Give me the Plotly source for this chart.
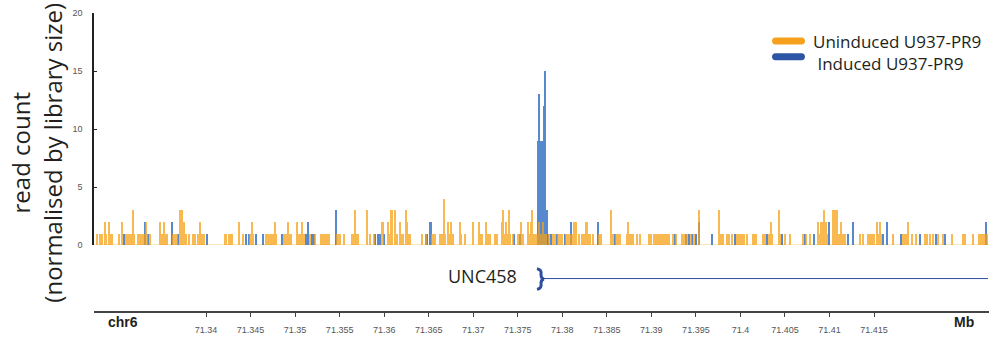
import plotly.graph_objects as go

# ---------------- data (positions in kb on chr6, values = normalised read counts)
uninduced_pos_kb = [
    71327.79, 71328.09, 71328.35, 71328.73, 71328.84, 71329.10, 71329.22, 71329.52, 71330.26, 71330.56,
    71331.01, 71331.20, 71331.39, 71331.54, 71331.72, 71331.84, 71331.99, 71332.36, 71332.51, 71332.70,
    71332.88, 71333.07, 71333.33, 71333.41, 71333.71, 71334.91, 71335.02, 71335.20, 71335.35, 71335.50,
    71335.65, 71336.33, 71336.48, 71336.63, 71336.78, 71337.08, 71337.23, 71337.30, 71337.45, 71337.60,
    71337.75, 71338.12, 71338.57, 71338.80, 71339.17, 71339.32, 71339.55, 71339.85, 71342.17, 71342.32,
    71342.62, 71342.84, 71342.99, 71343.74, 71344.19, 71345.01, 71345.20, 71345.31, 71346.73, 71347.03,
    71347.18, 71347.41, 71347.56, 71347.78, 71347.93, 71348.75, 71348.98, 71349.28, 71349.43, 71349.58,
    71350.25, 71350.40, 71350.55, 71350.70, 71350.85, 71351.00, 71351.67, 71352.27, 71352.95, 71353.10,
    71353.32, 71353.47, 71353.69, 71353.84, 71354.74, 71354.89, 71355.12, 71355.49, 71356.46, 71356.61,
    71356.73, 71356.91, 71357.14, 71358.11, 71358.41, 71358.86,
    71359.84, 71360.48, 71360.66, 71360.85, 71360.96, 71361.22, 71361.34, 71361.49, 71361.79, 71361.94,
    71362.09, 71362.46, 71362.61, 71362.76, 71362.91, 71364.26, 71364.71, 71365.38, 71365.53, 71365.75,
    71366.35, 71366.50, 71366.69, 71366.88, 71367.14, 71367.33, 71367.55, 71367.70, 71368.52, 71368.67,
    71369.12, 71369.95, 71370.02, 71370.69, 71370.84, 71370.99, 71371.44, 71371.59, 71371.74, 71371.89,
    71372.45, 71372.72, 71373.24, 71373.39, 71373.54, 71373.69, 71373.84, 71374.06, 71374.14, 71374.44,
    71375.11, 71375.41, 71375.56, 71376.16, 71376.23, 71376.38, 71376.53, 71376.68, 71376.83, 71376.98,
    71377.13, 71377.28, 71377.43, 71377.58, 71377.73, 71377.88, 71378.03, 71378.18, 71378.55, 71379.00,
    71379.23, 71379.53, 71379.75, 71379.98, 71380.50, 71380.72, 71380.88, 71381.17, 71381.32, 71381.47,
    71381.62, 71381.85, 71382.22, 71382.45, 71382.60, 71382.67, 71382.82, 71382.97, 71383.12, 71383.50,
    71384.17, 71384.32, 71385.52, 71385.74, 71386.04, 71386.19, 71386.41, 71386.56, 71387.31, 71387.46,
    71387.61, 71387.91, 71388.36, 71388.74, 71389.78, 71390.01, 71390.31, 71390.53, 71390.76, 71390.91,
    71391.13, 71391.36, 71391.58, 71391.80, 71392.03,
    71392.41, 71392.78, 71393.46, 71393.61, 71393.76, 71394.06, 71394.43, 71394.80, 71395.40, 71397.65,
    71397.80, 71398.02, 71398.47, 71398.70, 71399.07, 71399.60, 71399.82, 71399.97, 71400.19, 71400.42,
    71400.72, 71401.39, 71401.62, 71401.77, 71402.52, 71402.81, 71403.26, 71403.49, 71403.56, 71404.31,
    71404.46, 71404.99, 71405.58, 71407.08, 71407.38, 71407.83, 71408.73, 71408.88, 71409.03, 71409.18,
    71409.33, 71409.44, 71409.63, 71409.78, 71410.38, 71410.53, 71410.68, 71410.83, 71410.97, 71411.12,
    71411.27, 71411.42, 71411.57, 71411.80, 71413.45, 71413.82, 71414.34, 71414.57, 71414.79, 71415.02,
    71415.32, 71415.54, 71415.69, 71415.84, 71417.19, 71418.31, 71418.54, 71418.76, 71418.83, 71419.28,
    71419.73, 71420.71, 71421.01, 71421.31, 71421.68, 71422.20, 71422.80, 71423.78, 71424.97, 71425.27,
    71426.17, 71426.85, 71426.99, 71427.14, 71427.29, 71427.44, 71427.74,
]
uninduced_counts = [
    1, 1, 1, 2, 1, 2, 1, 1, 1, 2,
    1, 1, 1, 1, 1, 3, 1, 1, 1, 1,
    1, 1, 2, 1, 1, 2, 1, 1, 2, 1,
    1, 1, 1, 1, 1, 3, 1, 3, 1, 2,
    1, 1, 1, 1, 1, 2, 1, 1, 1, 1,
    1, 1, 1, 2, 1, 1, 2, 1, 1, 1,
    1, 1, 1, 2, 1, 1, 1, 2, 1, 1,
    2, 1, 1, 1, 2, 1, 1, 1, 1, 1,
    1, 1, 1, 1, 1, 1, 1, 1, 1, 1,
    3, 1, 1, 3, 1, 1,
    2, 2, 1, 3, 1, 3, 1, 1, 2, 1,
    1, 3, 2, 1, 1, 1, 1, 1, 1, 1,
    1, 1, 4, 1, 2, 1, 2, 1, 2, 1,
    1, 2, 1, 2, 1, 1, 2, 1, 1, 1,
    1, 1, 2, 3, 1, 2, 1, 3, 1, 1,
    1, 2, 1, 1, 2, 1, 2, 3, 1, 1,
    1, 1, 2, 1, 1, 2, 1, 1, 1, 1,
    1, 1, 1, 1, 1, 1, 1, 1, 2, 1,
    2, 1, 1, 1, 1, 2, 2, 1, 1, 1,
    1, 1, 3, 1, 1, 1, 1, 1, 1, 2,
    1, 1, 1, 1, 1, 1, 1, 1, 1, 1,
    1, 1, 1, 1, 1,
    1, 1, 1, 1, 1, 1, 1, 1, 3, 3,
    1, 1, 1, 1, 1, 1, 1, 1, 1, 1,
    1, 1, 1, 1, 1, 1, 1, 2, 1, 3,
    1, 1, 1, 1, 1, 1, 2, 1, 2, 1,
    2, 3, 2, 1, 3, 1, 3, 3, 1, 1,
    2, 1, 1, 1, 1, 1, 1, 1, 1, 1,
    2, 1, 2, 1, 1, 1, 1, 1, 2, 1,
    1, 1, 1, 1, 1, 1, 1, 1, 1, 1,
    1, 1, 1, 1, 1, 1, 1,
]

induced_pos_kb = [
    71330.86, 71333.18, 71333.56, 71336.25, 71336.93, 71340.15, 71344.49, 71344.86, 71345.61, 71346.47,
    71348.60, 71351.22, 71351.37, 71351.52, 71351.97, 71352.12, 71354.67, 71359.01, 71359.38,
    71359.54, 71359.99, 71364.78, 71365.23, 71374.59, 71375.26,
    71377.26, 71377.43, 71377.60, 71377.77, 71377.94, 71378.11, 71378.28,
    71378.44, 71378.78, 71379.38, 71380.35, 71380.95, 71384.02, 71385.89,
    71392.63, 71393.91, 71394.21, 71394.58, 71395.03, 71395.33, 71396.83, 71399.45, 71403.04, 71404.69,
    71407.23, 71408.28, 71409.93, 71412.10, 71412.62, 71416.07, 71416.44, 71418.01, 71420.18, 71421.98,
    71423.03, 71427.59,
]
induced_counts = [
    1, 2, 1, 2, 1, 1, 1, 1, 1, 1,
    1, 1, 1, 2, 1, 1, 3, 1, 1,
    1, 1, 1, 2, 1, 1,
    9, 13, 9, 9, 12, 15, 3,
    1, 1, 1, 1, 2, 2, 1,
    1, 1, 1, 1, 1, 2, 1, 1, 1, 1,
    1, 1, 2, 1, 2, 1, 2, 1, 1, 1,
    1, 2,
]

series_names = ["Uninduced U937-PR9", "Induced U937-PR9"]
x_tick_vals = [71.34, 71.345, 71.35, 71.355, 71.36, 71.365, 71.37, 71.375,
               71.38, 71.385, 71.39, 71.395, 71.4, 71.405, 71.41, 71.415]
x_tick_text = ["71.34", "71.345", "71.35", "71.355", "71.36", "71.365", "71.37", "71.375",
               "71.38", "71.385", "71.39", "71.395", "71.4", "71.405", "71.41", "71.415"]
y_tick_vals = [0, 5, 10, 15, 20]
x_range_mb = [71.32742, 71.42791]
gene_name = "UNC458"
gene_start_mb = 71.37784
gene_end_mb = 71.42780
bin_kb = 0.17

# ---------------- styling
ORANGE = "rgb(246,162,24)"
BLUE = "rgb(52,112,196)"
LEG_ORANGE = "#F6A11D"
LEG_BLUE = "#2D55A5"
GENE_BLUE = "#2E4E9E"
TXT = "#231f20"

W, H = 997, 343
ML, MR, MT, MB = 94, 8, 11, 28
PW, PH = W - ML - MR, H - MT - MB


def px(xp):
    return (xp - ML) / PW


def py(yp):
    return (H - MB - yp) / PH


fig = go.Figure()
fig.add_trace(go.Bar(
    x=[p / 1000 for p in induced_pos_kb], y=induced_counts, width=bin_kb / 1000,
    marker=dict(color=BLUE, line=dict(width=0)), opacity=0.82, name=series_names[1],
    showlegend=False,
))
fig.add_trace(go.Bar(
    x=[p / 1000 for p in uninduced_pos_kb], y=uninduced_counts, width=bin_kb / 1000,
    marker=dict(color=ORANGE, line=dict(width=0)), opacity=0.75, name=series_names[0],
    showlegend=False,
))

shapes = []
# faint baseline
shapes.append(dict(type="line", xref="x", yref="y", x0=x_range_mb[0], x1=x_range_mb[1], y0=0, y1=0,
                   line=dict(color="rgba(246,164,28,0.28)", width=2), layer="below"))
# gene line
gy = py(281)
shapes.append(dict(type="line", xref="x", yref="paper", x0=gene_start_mb, x1=gene_end_mb, y0=gy, y1=gy,
                   line=dict(color=GENE_BLUE, width=1)))


def gx(xp):
    return x_range_mb[0] + (xp - ML) / PW * (x_range_mb[1] - x_range_mb[0])


# TSS bracket
path = (f"M {gx(537)},{py(271)} Q {gx(542)},{py(272)} {gx(541)},{py(277)} "
        f"Q {gx(541)},{py(281)} {gx(544)},{py(281.5)} "
        f"Q {gx(541)},{py(282)} {gx(541)},{py(286)} "
        f"Q {gx(542)},{py(291)} {gx(537)},{py(292)}")
shapes.append(dict(type="path", xref="x", yref="paper", path=path,
                   line=dict(color=GENE_BLUE, width=3)))


# legend pills (pixel sized)
def pill(x_left, y_center, color):
    L, r = 33, 3.5
    k = 4 / 3 * r
    p = (f"M {r},{r} L {L - r},{r} C {L - r + k},{r} {L - r + k},{-r} {L - r},{-r} "
         f"L {r},{-r} C {r - k},{-r} {r - k},{r} {r},{r} Z")
    return dict(type="path", xref="paper", yref="paper", xsizemode="pixel", ysizemode="pixel",
                xanchor=px(x_left), yanchor=py(y_center), path=p,
                fillcolor=color, line=dict(width=0))


shapes.append(pill(772, 39.5, LEG_ORANGE))
shapes.append(pill(772, 55.5, LEG_BLUE))

annotations = [
    dict(text=series_names[0] + "<br>&nbsp;" + series_names[1], xref="paper", yref="paper",
         x=px(811), y=py(51.5), xanchor="left", yanchor="middle", align="left", showarrow=False,
         font=dict(family="Open Sans", size=17, color=TXT)),
    dict(text="read count<br>(normalised by library size)", xref="paper", yref="paper",
         x=px(36), y=py(153), xanchor="center", yanchor="middle", textangle=-90, showarrow=False,
         font=dict(family="Open Sans", size=24, color=TXT)),
    dict(text=gene_name, xref="paper", yref="paper", x=px(519), y=py(278.5),
         xanchor="right", yanchor="middle", showarrow=False,
         font=dict(family="Open Sans", size=18, color=TXT)),
    dict(text="<b>chr6</b>", xref="paper", yref="paper", x=px(106), y=py(325),
         xanchor="left", yanchor="middle", showarrow=False,
         font=dict(family="Liberation Sans", size=14, color=TXT)),
    dict(text="<b>Mb</b>", xref="paper", yref="paper", x=px(976), y=py(325),
         xanchor="right", yanchor="middle", showarrow=False,
         font=dict(family="Liberation Sans", size=14, color=TXT)),
]

fig.update_layout(
    width=W, height=H, margin=dict(l=ML, r=MR, t=MT, b=MB),
    paper_bgcolor="white", plot_bgcolor="white",
    barmode="overlay", bargap=0, showlegend=False,
    shapes=shapes, annotations=annotations,
    xaxis=dict(range=x_range_mb, anchor="free", position=0, showgrid=False, zeroline=False,
               showline=True, linecolor="#444", linewidth=1.5,
               ticks="outside", ticklen=4, tickwidth=1, tickcolor="#444",
               tickvals=x_tick_vals, ticktext=x_tick_text, ticklabelstandoff=5,
               tickfont=dict(family="Liberation Sans", size=9, color="#555")),
    yaxis=dict(range=[0, 20], domain=[py(247), 1], showgrid=False, zeroline=False,
               showline=True, linecolor="#222", linewidth=1.5,
               ticks="inside", ticklen=3, tickcolor="#222",
               tickvals=y_tick_vals, ticktext=[str(v) for v in y_tick_vals],
               tickfont=dict(family="Liberation Sans", size=9, color="#555"),
               ticklabelstandoff=8),
)

fig.write_html("out.html", config={"displayModeBar": False},
               post_script="document.body.style.margin='0';")
